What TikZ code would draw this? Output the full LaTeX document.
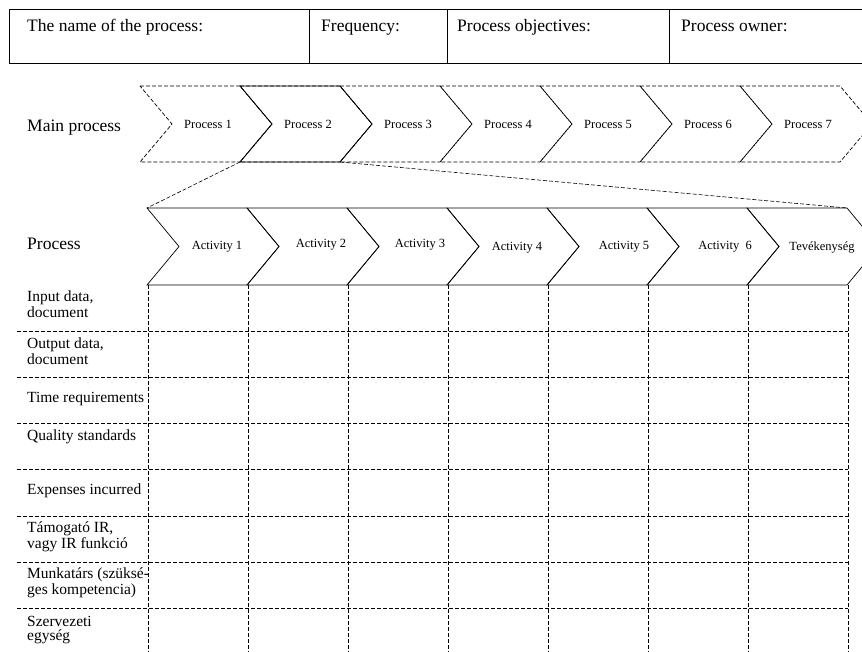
\documentclass[tikz,border=0pt]{standalone}
\usepackage{fontspec}
\setmainfont{Liberation Serif}

\newcommand{\headfont}{\fontsize{17.5}{19}\selectfont}
\newcommand{\rowfont}{\fontsize{15.5}{14}\selectfont}
\newcommand{\chevfont}{\fontsize{12.5}{14}\selectfont}

\tikzset{
  chev/.style={line width=0.7pt},
  dchev/.style={chev, dashed, dash pattern=on 4pt off 2pt},
  gridline/.style={line width=0.6pt, dash pattern=on 4pt off 2pt},
  rowlabel/.style={font=\rowfont, anchor=base west, align=left, inner sep=0pt},
  headlabel/.style={font=\headfont, anchor=base west, inner sep=0pt},
  chevlabel/.style={font=\chevfont, inner sep=0pt}
}

\begin{document}
\begin{tikzpicture}[x=1pt,y=-1pt]
\useasboundingbox (0,0) rectangle (862,651);
\clip (0,0) rectangle (862,651);

% header
\draw[line width=0.7pt] (9,9.5) rectangle (880,63);
\draw[line width=0.7pt] (309,9.5) -- (309,63);
\draw[line width=0.7pt] (447,9.5) -- (447,63);
\draw[line width=0.7pt] (669,9.5) -- (669,63);
\node[headlabel] (hname) at (27,31) {The name of the process:};
\node[headlabel] (hfreq) at (321,31) {Frequency:};
\node[headlabel] (hobj) at (457,31) {Process objectives:};
\node[headlabel] (howner) at (681,31) {Process owner:};

% main process row
\node[headlabel] (mainlbl) at (27,131) {Main process};
\foreach \i in {1,...,7} {
  \pgfmathsetmacro{\x}{40+100*\i}
  \draw[dchev] (\x,86) -- ++(100,0) -- ++(32,38) -- ++(-32,38) -- ++(-100,0) -- ++(32,-38) -- cycle;
  \node[chevlabel] (p\i) at (\x+68,124) {Process \i};
}
\draw[chev] (240,86) -- (340,86) -- (372,124) -- (340,162) -- (240,162) -- (272,124) -- cycle;
\coordinate (p2sw) at (240,162);
\coordinate (p2se) at (340,162);

% activity row
\node[headlabel] (proclbl) at (27,249) {Process};
\foreach \i/\lbl/\dx/\dy in {1/Activity 1/70/247, 2/Activity 2/74/245, 3/Activity 3/73/245, 4/Activity 4/70/248,
                        5/Activity 5/77/247, 6/Activity\ \ 6/78/247, 7/Tevékenység/75/247} {
  \pgfmathsetmacro{\x}{47+100*\i}
  \draw[chev] (\x,208) -- ++(100,0) -- ++(32,38.5) -- ++(-32,38.5) -- ++(-100,0) -- ++(32,-38.5) -- cycle;
  \node[chevlabel] (a\i) at (\x+\dx,\dy) {\lbl};
}
\coordinate (a1nw) at (147,208);
\coordinate (a7ne) at (847,208);

% zoom lines
\draw[gridline] (p2sw) -- (a1nw);
\draw[gridline] (p2se) -- (a7ne);

% grid
\foreach \k in {0,...,7}
  \draw[gridline] (148+100*\k,285) -- (148+100*\k,660);
\foreach \y in {331,377,423,469,516,562,608}
  \draw[gridline] (17,\y) -- (848,\y);

% row labels (base = last line)
\node[rowlabel] (rin) at (27,317) {Input data,\\document};
\node[rowlabel] (rout) at (27,364) {Output data,\\document};
\node[rowlabel] (rtime) at (27,402) {Time requirements};
\node[rowlabel] (rqual) at (27,440) {Quality standards};
\node[rowlabel] (rexp) at (27,494) {Expenses incurred};
\node[rowlabel] (rir) at (27,548) {Támogató IR,\\vagy IR funkció};
\node[rowlabel] (rstaff) at (27,594) {Munkatárs (szüksé-\\ges kompetencia)};
\node[rowlabel] (rorg) at (27,640) {Szervezeti\\egység};
\end{tikzpicture}
\end{document}
